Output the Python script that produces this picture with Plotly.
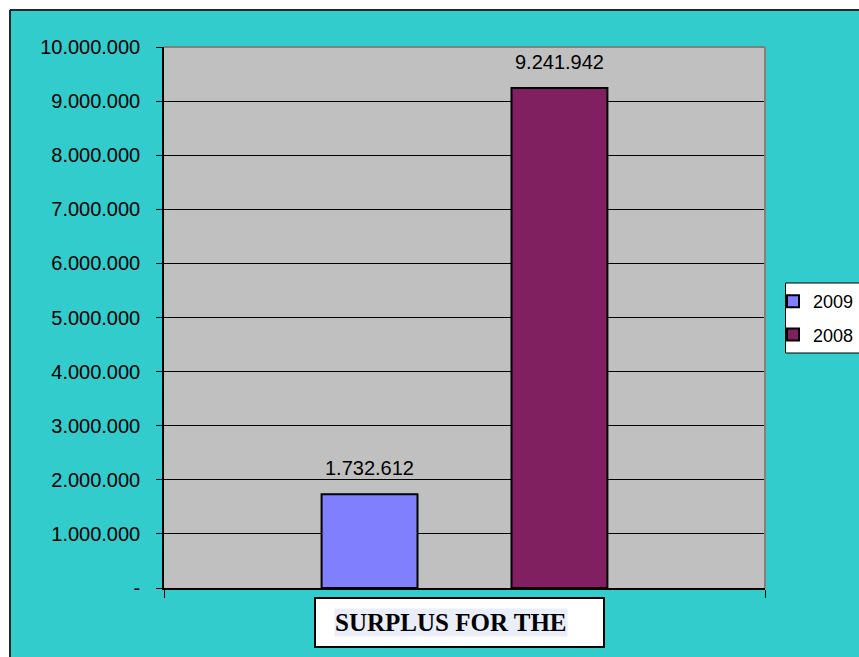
import plotly.graph_objects as go

# Data
categories = ["SURPLUS FOR THE"]
series_names = ["2009", "2008"]
surplus_2009 = [1732612]
surplus_2008 = [9241942]
y_tick_values = [0, 1000000, 2000000, 3000000, 4000000, 5000000,
                 6000000, 7000000, 8000000, 9000000, 10000000]
y_tick_labels = ["-", "1.000.000", "2.000.000", "3.000.000", "4.000.000",
                 "5.000.000", "6.000.000", "7.000.000", "8.000.000",
                 "9.000.000", "10.000.000"]

# Styling
W, H = 859, 657
ML, MR, MT, MB = 164, 94, 47, 69
PW, PH = W - ML - MR, H - MT - MB
CYAN = "#33CCCC"
PLOT_GRAY = "#C0C0C0"
colors = ["#8080FF", "#802060"]
BARGAP = 0.368
BARGROUPGAP = 0.495
SANS = "Liberation Sans, Arial, sans-serif"
SERIF = "Liberation Serif, Times New Roman, serif"


def px_x(px):
    return (px - ML) / PW


def px_y(py):
    return (H - MB - py) / PH


fig = go.Figure()
for name, vals, col in zip(series_names, [surplus_2009, surplus_2008], colors):
    fig.add_trace(go.Bar(
        x=categories, y=vals, name=name, legendgroup=name,
        marker=dict(color=col, line=dict(color="black", width=2)),
        hoverinfo="skip",
    ))

# Value labels above each bar, centred on the grouped bar slots
slot = (1 - BARGAP) / len(series_names)
annotations = []
for i, vals in enumerate([surplus_2009, surplus_2008]):
    offset = -(1 - BARGAP) / 2 + slot * (i + 0.5)
    for j, v in enumerate(vals):
        annotations.append(dict(
            x=j + offset, y=v, xref="x", yref="y",
            text=f"{v:,}".replace(",", "."),
            showarrow=False, yanchor="bottom", yshift=13,
            font=dict(family=SANS, size=20, color="black"),
        ))

shapes = [
    # white margin strip outside the outer frame
    dict(type="rect", xref="paper", yref="paper", x0=px_x(-5), x1=px_x(W + 5),
         y0=px_y(10), y1=px_y(-5), fillcolor="white", line_width=0, layer="below"),
    dict(type="rect", xref="paper", yref="paper", x0=px_x(-5), x1=px_x(10),
         y0=px_y(H + 5), y1=px_y(-5), fillcolor="white", line_width=0, layer="below"),
    # outer frame
    dict(type="line", xref="paper", yref="paper", x0=px_x(10), x1=px_x(W + 5),
         y0=px_y(10), y1=px_y(10), line=dict(color="#1E2B2B", width=2)),
    dict(type="line", xref="paper", yref="paper", x0=px_x(10), x1=px_x(10),
         y0=px_y(10), y1=px_y(H + 5), line=dict(color="#1E2B2B", width=2)),
    # plot area top/right border
    dict(type="line", xref="paper", yref="paper", x0=0, x1=1, y0=1, y1=1,
         line=dict(color="#808080", width=2), layer="above"),
    dict(type="line", xref="paper", yref="paper", x0=1, x1=1, y0=0, y1=1,
         line=dict(color="#808080", width=2), layer="above"),
    # legend box
    dict(type="rect", xref="paper", yref="paper", x0=px_x(785.5), x1=px_x(W + 10),
         y0=px_y(353), y1=px_y(283), fillcolor="white",
         line=dict(color="black", width=1), layer="above"),
    # caption box under the category axis
    dict(type="rect", xref="paper", yref="paper", x0=px_x(315), x1=px_x(604),
         y0=px_y(647), y1=px_y(598), fillcolor="white",
         line=dict(color="black", width=2)),
]
annotations.append(dict(
    x=px_x(334), y=px_y(622.5), xref="paper", yref="paper",
    xanchor="left", yanchor="middle", showarrow=False,
    text="<b>" + categories[0] + "</b>", bgcolor="#EAEEF8", borderpad=0,
    font=dict(family=SERIF, size=25, color="black"),
))

fig.update_layout(
    width=W, height=H,
    margin=dict(l=ML, r=MR, t=MT, b=MB, pad=0, autoexpand=False),
    paper_bgcolor=CYAN, plot_bgcolor=PLOT_GRAY,
    barmode="group", bargap=BARGAP, bargroupgap=BARGROUPGAP,
    showlegend=True,
    legend=dict(
        x=px_x(773), y=px_y(283), xanchor="left", yanchor="top",
        bgcolor="rgba(0,0,0,0)", borderwidth=0,
        font=dict(family=SANS, size=18, color="black"),
        tracegroupgap=7, traceorder="grouped",
        itemwidth=30,
    ),
    shapes=shapes, annotations=annotations,
)
fig.update_xaxes(
    type="category", showticklabels=False, showgrid=False,
    showline=True, linecolor="black", linewidth=2,
    ticks="outside", tickson="boundaries", ticklen=8, tickcolor="black",
    zeroline=False,
)
fig.update_yaxes(
    range=[0, 10000000], tickvals=y_tick_values, ticktext=y_tick_labels,
    showgrid=True, gridcolor="black", gridwidth=1,
    showline=True, linecolor="black", linewidth=1.5,
    ticks="outside", ticklen=6, tickcolor="black",
    ticklabelstandoff=12,
    tickfont=dict(family=SANS, size=20, color="black"),
    zeroline=False,
)

fig.write_html("out.html")
